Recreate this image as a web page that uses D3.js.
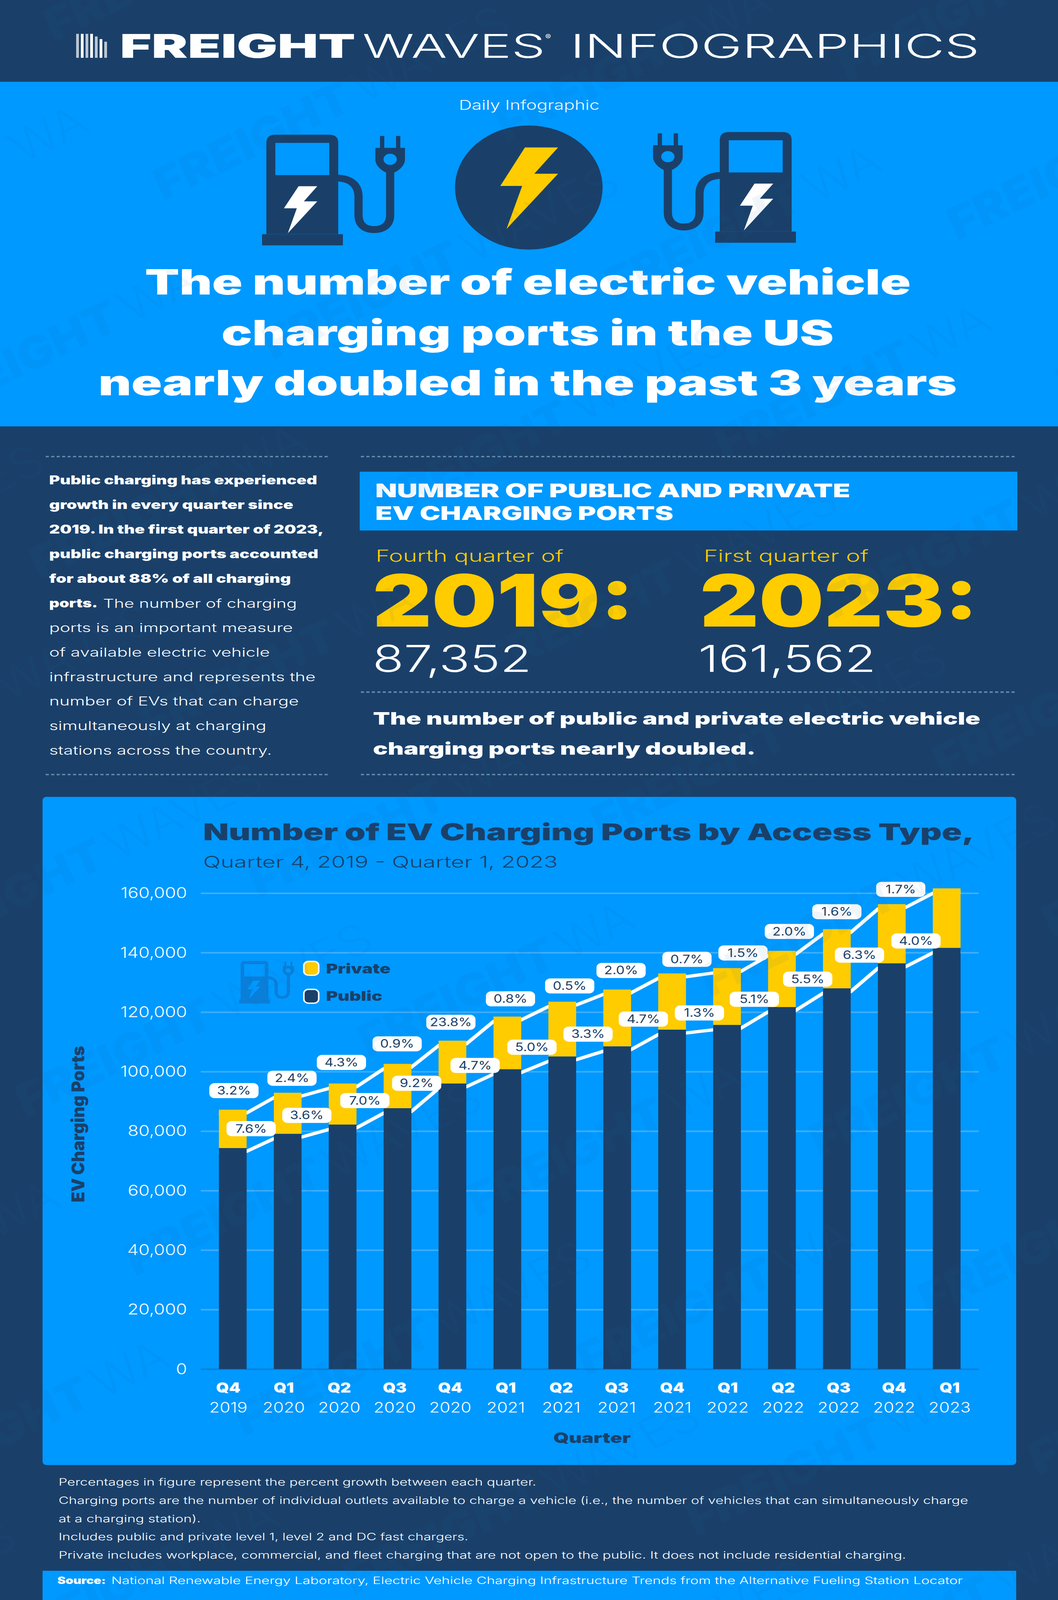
<!DOCTYPE html>
<html>
<head>
<meta charset="utf-8">
<title>EV charging ports</title>
<script src="https://cdn.jsdelivr.net/npm/d3@7"></script>
<style>
  html, body { margin: 0; padding: 0; background: #1a406a; overflow: hidden; }
  svg { display: block; }
  text { font-family: Inter, "Open Sans", sans-serif; }
</style>
</head>
<body>
<div id="svg-container"></div>
<script>
// chart data
const quarters = ['Q4 2019', 'Q1 2020', 'Q2 2020', 'Q3 2020', 'Q4 2020', 'Q1 2021', 'Q2 2021', 'Q3 2021', 'Q4 2021', 'Q1 2022', 'Q2 2022', 'Q3 2022', 'Q4 2022', 'Q1 2023']
const publicPorts = [74300, 79100, 82200, 87700, 96000, 100800, 105100, 108500, 114100, 115700, 121700, 128000, 136400, 141600]
const privatePorts = [12900, 13800, 13800, 14900, 14400, 17700, 18400, 19100, 18900, 19100, 18900, 19900, 19900, 20000]
const totalGrowth = ['3.2%', '2.4%', '4.3%', '0.9%', '23.8%', '0.8%', '0.5%', '2.0%', '0.7%', '1.5%', '2.0%', '1.6%', '1.7%']
const publicGrowth = ['7.6%', '3.6%', '7.0%', '9.2%', '4.7%', '5.0%', '3.3%', '4.7%', '1.3%', '5.1%', '5.5%', '6.3%', '4.0%']
const yTicks = [0, 20000, 40000, 60000, 80000, 100000, 120000, 140000, 160000]

// hand placed offsets of the percent pills (from bar centre / bar top)
const totalPillDx = [3, 11, -3, -1, -4, 8, 19, 10, 38, 41, 19, 0, 23]
const totalPillDy = [-58, -44, -64, -61, -56, -54, -48, -58, -43, -46, -59, -53, -45]
const publicPillDx = [47, 49, 57, 49, 58, 63, 66, 67, 70, 70, 66, 58, 62]
const publicPillDy = [-59, -56, -73, -76, -55, -67, -68, -83, -51, -78, -85, -101, -68]

// page text
const sideText = [
  ['Public charging has experienced', 686, 900],
  ['growth in every quarter since', 625, 900],
  ['2019. In the first quarter of 2023,', 703, 900],
  ['public charging ports accounted', 689, 900],
  ['for about 88% of all charging', 619, 900],
  ['ports.', 124, 900],
  ['ports is an important measure', 624, 300],
  ['of available electric vehicle', 565, 300],
  ['infrastructure and represents the', 682, 300],
  ['number of EVs that can charge', 639, 300],
  ['simultaneously at charging', 556, 300],
  ['stations across the country.', 570, 300]
]
const notes = [
  ['Percentages in figure represent the percent growth between each quarter.', 1223],
  ['Charging ports are the number of individual outlets available to charge a vehicle (i.e., the number of vehicles that can simultaneously charge', 2329],
  ['at a charging station).', 364],
  ['Includes public and private level 1, level 2 and DC fast chargers.', 1049],
  ['Private includes workplace, commercial, and fleet charging that are not open to the public. It does not include residential charging.', 2170]
]

const width = 2709
const height = 4871
const dark = '#1a406a'
const blue = '#0099ff'
const yellow = '#ffcc00'

// the real window can be shorter than the page, so draw in page units and fit it
const svg = d3.select('#svg-container').append('svg')
  .attr('width', window.innerWidth).attr('height', window.innerHeight)
  .attr('viewBox', `0 0 ${width} ${height}`)
  .attr('preserveAspectRatio', 'none')

// text helper, w stretches the text to the width measured in the picture
function label(parent, str, x, y, size, weight, fill, w, anchor) {
  const t = parent.append('text')
    .attr('x', x).attr('y', y)
    .attr('font-size', size).attr('font-weight', weight)
    .attr('fill', fill).attr('text-anchor', anchor || 'start')
    .text(str)
  if (w) t.attr('textLength', w).attr('lengthAdjust', 'spacingAndGlyphs')
  return t
}

// backgrounds
svg.append('rect').attr('width', width).attr('height', height).attr('fill', dark)
svg.append('rect').attr('y', 249).attr('width', width).attr('height', 1049).attr('fill', blue)
svg.append('rect').attr('x', 921).attr('y', 1436).attr('width', 1684).attr('height', 179).attr('fill', blue)
svg.append('rect').attr('x', 109).attr('y', 2426).attr('width', 2493).attr('height', 2034).attr('rx', 10).attr('fill', blue)
svg.append('rect').attr('x', 109).attr('y', 4782).attr('width', 2493).attr('height', 89).attr('fill', blue)

// header logo
const logo = svg.append('g')
d3.range(7).forEach(i => {
  logo.append('rect').attr('x', 195 + i * 12).attr('y', 103 + (i > 3 ? (i - 3) * 8 : 0))
    .attr('width', 7).attr('height', 73 - (i > 3 ? (i - 3) * 8 : 0))
    .attr('fill', i % 2 ? '#ffffff' : '#b9c6d3')
})
label(logo, 'FREIGHT', 307, 176, 100, 900, '#fff', 603)
label(logo, 'WAVES', 928, 176, 100, 300, '#fff', 468)
label(logo, '®', 1396, 120, 22, 400, '#fff')
label(logo, 'INFOGRAPHICS', 1460, 176, 100, 300, '#fff', 1048)

// pump icon, drawn in the coordinates of the left pump
function pump(g, body, hole) {
  g.append('path').attr('fill', body)
    .attr('d', 'M682,713 V434 Q682,410 706,410 H842 Q866,410 866,434 V713 Z')
  g.append('rect').attr('x', 671).attr('y', 713).attr('width', 207).attr('height', 34).attr('fill', body)
  g.append('rect').attr('x', 705).attr('y', 435).attr('width', 138).attr('height', 98).attr('fill', hole)
  g.append('path').attr('fill', 'none').attr('stroke', body).attr('stroke-width', 21)
    .attr('d', 'M860,542 C900,542 918,565 918,600 L918,655 C918,685 935,699 958,699 C981,699 999,685 999,655 L999,515')
  g.append('path').attr('fill', body)
    .attr('d', 'M961,450 H1037 V485 C1037,505 1020,520 1010,525 H988 C978,520 961,505 961,485 Z')
  g.append('rect').attr('x', 973).attr('y', 414).attr('width', 11).attr('height', 40).attr('fill', body)
  g.append('rect').attr('x', 1014).attr('y', 414).attr('width', 11).attr('height', 40).attr('fill', body)
  g.append('circle').attr('cx', 999).attr('cy', 485).attr('r', 17).attr('fill', hole)
}
const smallBolt = 'M764.5,567 L812.4,567 L778,613 L812.4,613 L737,710 L760,634 L727,634 Z'

const leftPump = svg.append('g')
pump(leftPump, dark, blue)
leftPump.append('path').attr('d', smallBolt).attr('fill', '#fff')

const rightPump = svg.append('g').attr('transform', 'translate(2709,-8) scale(-1,1)')
pump(rightPump, dark, blue)
svg.append('path').attr('d', smallBolt).attr('fill', '#fff').attr('transform', 'translate(1167.5,-8)')

svg.append('circle').attr('cx', 1354).attr('cy', 571).attr('r', 189).attr('fill', dark)
svg.append('path').attr('fill', yellow)
  .attr('d', 'M1344,449 L1429,449 L1368,529 L1429,529 L1297,697 L1337,566 L1281,566 Z')

// hero text
label(svg, 'Daily Infographic', 1175, 334, 40, 300, '#fff', 360)
label(svg, 'The number of electric vehicle', 371, 897, 107, 900, '#fff', 1961)
label(svg, 'charging ports in the US', 567, 1051, 107, 900, '#fff', 1568)
label(svg, 'nearly doubled in the past 3 years', 252, 1204, 107, 900, '#fff', 2198)

// dotted rules
const rules = [[117, 843, 1390], [924, 2600, 1390], [924, 2600, 2107], [117, 843, 2358], [924, 2600, 2358]]
svg.selectAll('.rule').data(rules).enter().append('line')
  .attr('class', 'rule')
  .attr('x1', d => d[0]).attr('x2', d => d[1])
  .attr('y1', d => d[2]).attr('y2', d => d[2])
  .attr('stroke', '#6d8fae').attr('stroke-width', 4).attr('stroke-dasharray', '8 6')

// left column
sideText.forEach((d, i) => {
  label(svg, d[0], 126, 1475 + i * 74.8, 37, d[2], '#fff', d[1])
})
label(svg, 'The number of charging', 264, 1850, 37, 300, '#fff', 496)

// right column
label(svg, 'NUMBER OF PUBLIC AND PRIVATE', 961, 1514, 58, 900, '#fff', 1216)
label(svg, 'EV CHARGING PORTS', 961, 1583, 58, 900, '#fff', 763)
label(svg, 'Fourth quarter of', 962, 1710, 50, 300, yellow, 481)
label(svg, 'First quarter of', 1802, 1710, 50, 300, yellow, 422)
label(svg, '2019:', 954, 1907, 220, 900, yellow, 670)
label(svg, '2023:', 1792, 1907, 220, 900, yellow, 713)
label(svg, '87,352', 954, 2045, 112, 300, '#fff', 407)
label(svg, '161,562', 1788, 2045, 112, 300, '#fff', 455)
label(svg, 'The number of public and private electric vehicle', 955, 2206, 53, 900, '#fff', 1555)
label(svg, 'charging ports nearly doubled.', 955, 2298, 53, 900, '#fff', 980)

// chart titles
label(svg, 'Number of EV Charging Ports by Access Type,', 520, 2558, 70, 900, dark, 1975)
label(svg, 'Quarter 4, 2019 - Quarter 1, 2023', 520, 2641, 48, 300, dark, 908)

// scales
const xScale = d3.scaleBand().domain(quarters).range([560.5, 2459.5]).paddingInner(0.495).paddingOuter(0)
const xLabels = d3.scalePoint().domain(quarters).range([584, 2431])
const yScale = d3.scaleLinear().domain([0, 160000]).range([4168, 2719])

const totals = publicPorts.map((d, i) => d + privatePorts[i])

// y axis + gridlines
const yAxisG = svg.append('g')
  .attr('transform', 'translate(514,0)')
  .call(d3.axisLeft(yScale).tickValues(yTicks).tickSize(-1992).tickPadding(35).tickFormat(d3.format(',')))
yAxisG.selectAll('.domain').remove()
yAxisG.selectAll('.tick line')
  .attr('stroke', d => d === 0 ? '#0a80d8' : '#3dadfb')
  .attr('stroke-width', 5)
yAxisG.selectAll('.tick text')
  .attr('fill', '#fff').attr('font-size', 46).attr('font-weight', 300)
  .attr('font-family', 'Inter, sans-serif')

// x axis, quarter on top of the year
const xAxisG = svg.append('g')
  .attr('transform', 'translate(0,4168)')
  .call(d3.axisBottom(xLabels).tickSize(0))
xAxisG.selectAll('.domain').remove()
xAxisG.selectAll('.tick text').each(function (d) {
  const parts = d.split(' ')
  const t = d3.select(this).text(null).attr('dy', null).attr('y', null)
    .attr('fill', '#fff').attr('font-family', 'Inter, sans-serif')
  t.append('tspan').attr('x', 0).attr('y', 72).attr('font-size', 42).attr('font-weight', 900).text(parts[0])
  t.append('tspan').attr('x', 0).attr('y', 132).attr('font-size', 44).attr('font-weight', 300).text(parts[1])
})

// axis titles
label(svg, 'Quarter', 1516, 4393, 44, 900, dark, 198, 'middle')
label(svg, 'EV Charging Ports', 0, 0, 45, 900, dark, 476, 'middle')
  .attr('transform', 'translate(216,3422) rotate(-90)')

// white connector lines behind the bars
function connector(values) {
  const pts = []
  values.forEach((v, i) => {
    pts.push([xScale(quarters[i]), yScale(v) + 15])
    pts.push([xScale(quarters[i]) + xScale.bandwidth(), yScale(v) + 10])
  })
  return d3.line()(pts)
}
svg.append('path').attr('d', connector(totals)).attr('fill', 'none').attr('stroke', '#fff').attr('stroke-width', 10)
svg.append('path').attr('d', connector(publicPorts)).attr('fill', 'none').attr('stroke', '#fff').attr('stroke-width', 10)

// bars
svg.selectAll('.bar-public').data(quarters).enter().append('rect')
  .attr('class', 'bar-public')
  .attr('x', d => xScale(d)).attr('width', xScale.bandwidth())
  .attr('y', (d, i) => yScale(publicPorts[i]))
  .attr('height', (d, i) => yScale(0) - yScale(publicPorts[i]))
  .attr('fill', dark)
svg.selectAll('.bar-private').data(quarters).enter().append('rect')
  .attr('class', 'bar-private')
  .attr('x', d => xScale(d)).attr('width', xScale.bandwidth())
  .attr('y', (d, i) => yScale(totals[i]))
  .attr('height', (d, i) => yScale(publicPorts[i]) - yScale(totals[i]))
  .attr('fill', yellow)

// percent pills
function pills(texts, values, dx, dy) {
  const g = svg.selectAll(null).data(texts).enter().append('g')
    .attr('transform', (d, i) => `translate(${xScale(quarters[i]) + xScale.bandwidth() / 2 + dx[i]},${yScale(values[i]) + dy[i]})`)
  g.append('rect').attr('x', -63).attr('y', -23).attr('width', 126).attr('height', 46).attr('rx', 14).attr('fill', '#fff')
  g.append('text').attr('text-anchor', 'middle').attr('y', 12).attr('font-size', 35)
    .attr('font-weight', 400).attr('fill', dark).text(d => d)
}
pills(totalGrowth, totals, totalPillDx, totalPillDy)
pills(publicGrowth, publicPorts, publicPillDx, publicPillDy)

// legend
const legendIcon = svg.append('g').attr('transform', 'translate(353.7,2767.6) scale(0.385)')
pump(legendIcon, '#0a7fd9', blue)
legendIcon.append('path').attr('d', smallBolt).attr('fill', blue)
const legendItems = [['Private', yellow, 2927, 2963, 165], ['Public', dark, 3012, 3047, 144]]
legendItems.forEach(d => {
  svg.append('rect').attr('x', 778).attr('y', d[2]).attr('width', 38).attr('height', 42).attr('rx', 12)
    .attr('fill', d[1]).attr('stroke', '#fff').attr('stroke-width', 4)
  label(svg, d[0], 835, d[3], 41, 900, dark, d[4])
})

// notes + source
const noteY = [4522, 4578, 4634, 4689, 4745]
notes.forEach((d, i) => label(svg, d[0], 150, noteY[i], 30, 300, '#fff', d[1]))
label(svg, 'Source:', 147, 4822, 30, 900, '#fff', 124)
label(svg, 'National Renewable Energy Laboratory, Electric Vehicle Charging Infrastructure Trends from the Alternative Fueling Station Locator', 285, 4822, 30, 300, '#fff', 2180)

// faint watermark across the whole page
const defs = svg.append('defs')
const pattern = defs.append('pattern').attr('id', 'wm').attr('patternUnits', 'userSpaceOnUse')
  .attr('width', 1700).attr('height', 560).attr('patternTransform', 'rotate(-30)')
const wmRows = [[60, 180], [910, 460]]
wmRows.forEach(d => {
  pattern.append('text').attr('x', d[0]).attr('y', d[1]).attr('font-size', 130).attr('font-weight', 900)
    .attr('font-style', 'italic').attr('fill', '#0a5a9c').text('FREIGHT')
  pattern.append('text').attr('x', d[0] + 590).attr('y', d[1]).attr('font-size', 130).attr('font-weight', 300)
    .attr('fill', '#0a5a9c').text('WAVES')
})
svg.append('rect').attr('width', width).attr('height', height).attr('fill', 'url(#wm)')
  .attr('opacity', 0.06).style('pointer-events', 'none')
</script>
</body>
</html>
